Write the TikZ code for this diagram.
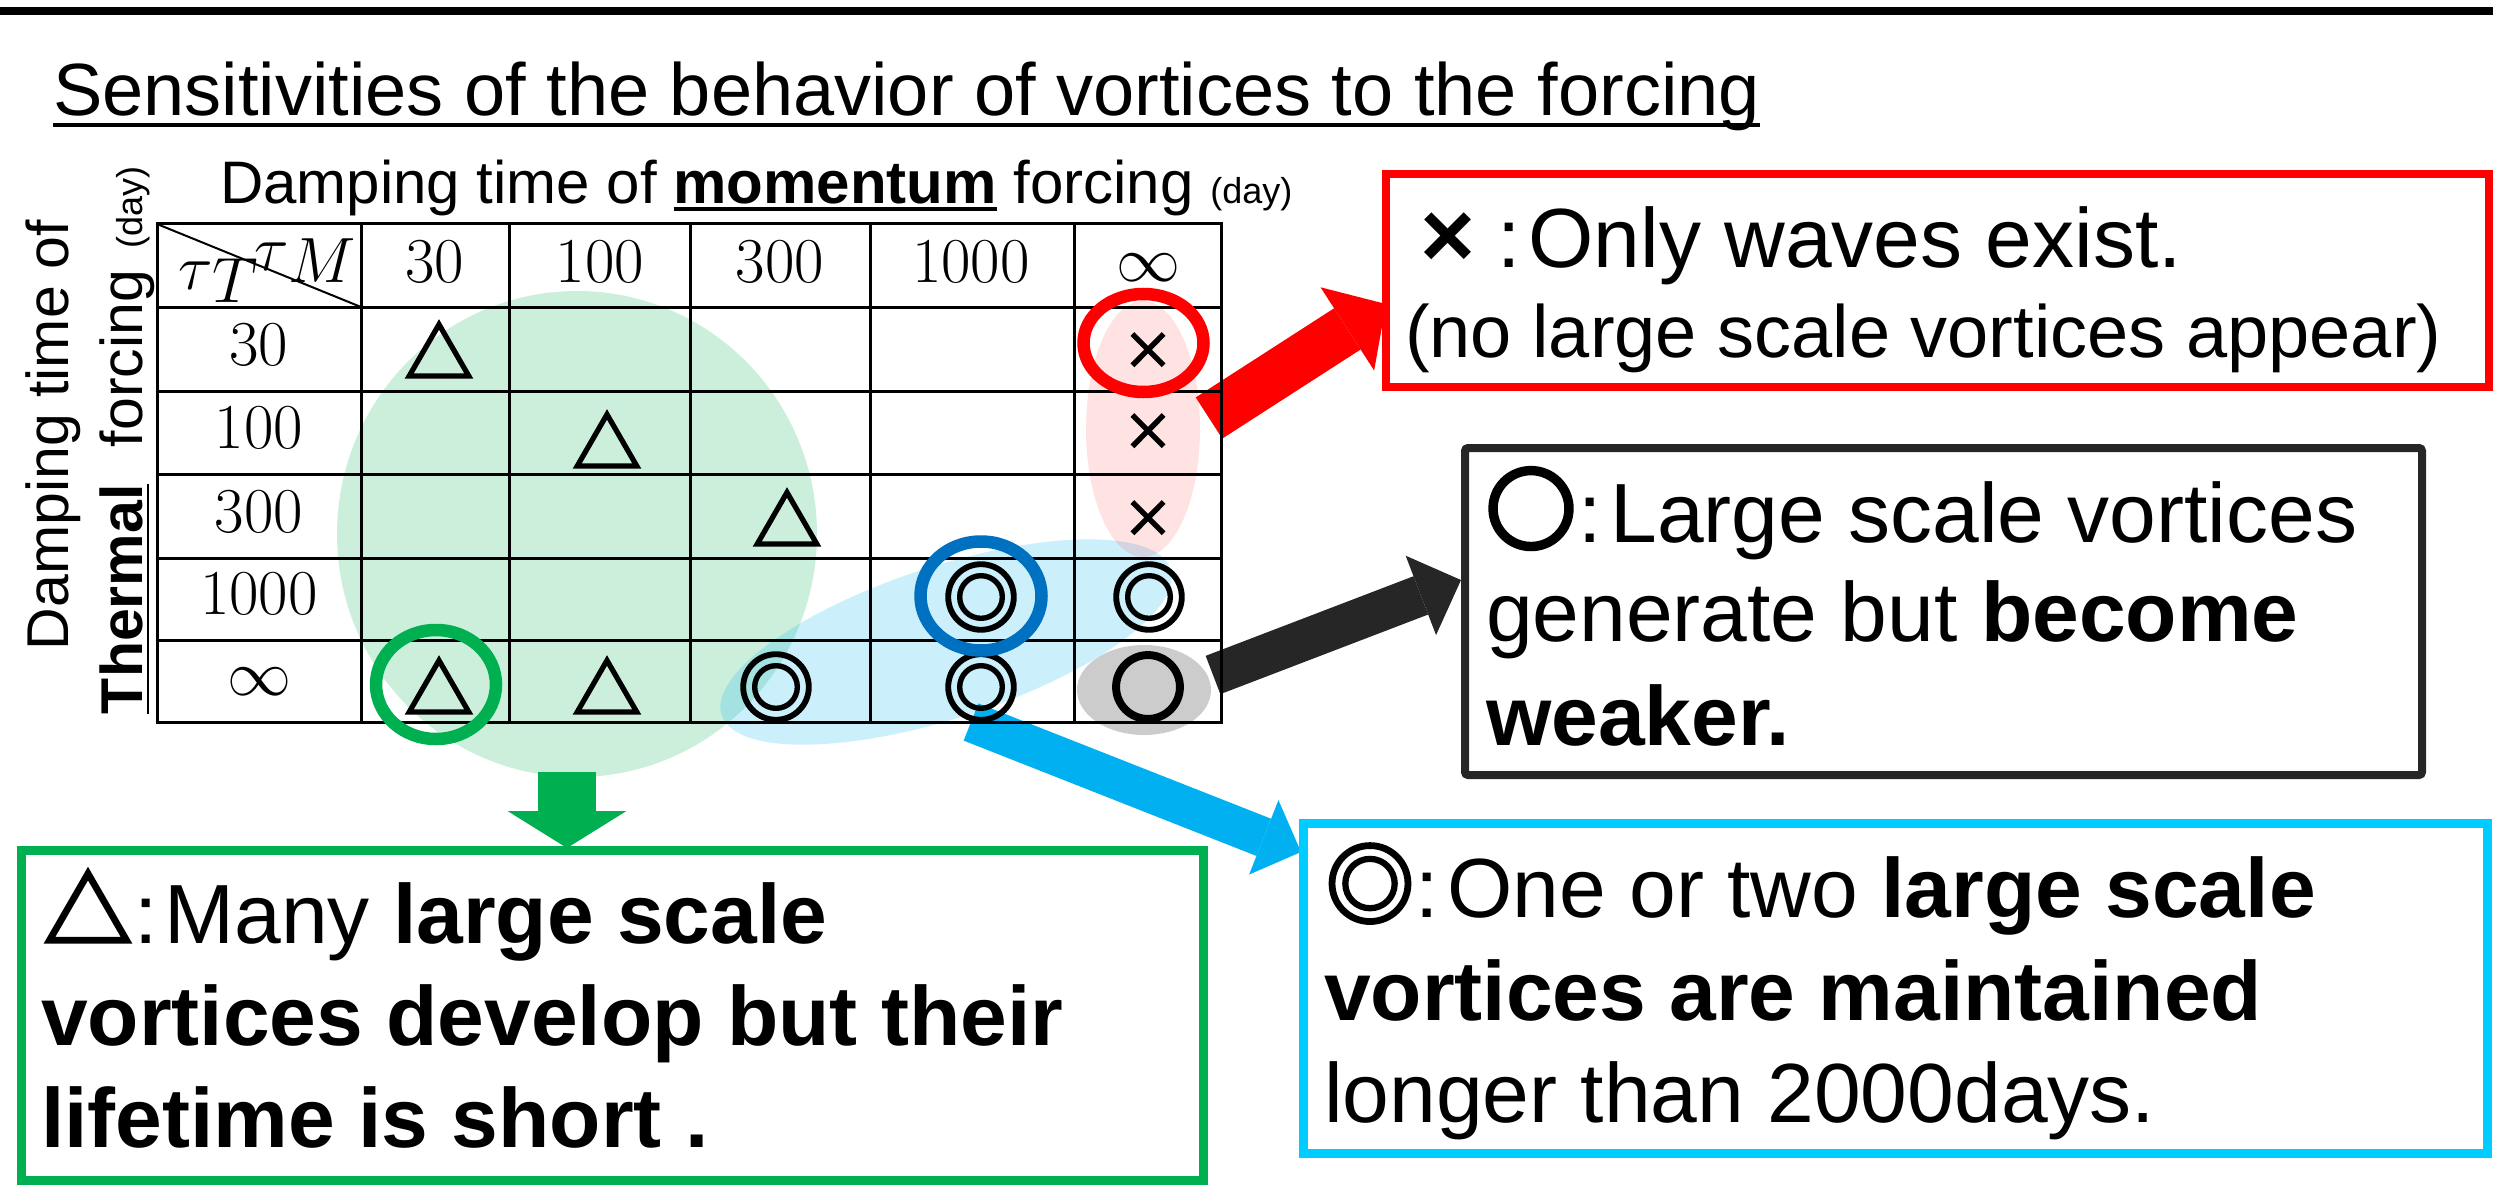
\documentclass[tikz,border=0pt]{standalone}
\usepackage[no-math]{fontspec}
\setmainfont{Liberation Sans}
\newfontfamily\cjk{Noto Sans CJK JP}
\newfontfamily\cjkb[FakeBold=4]{Noto Sans CJK JP}
\newfontfamily\cjkB[FakeBold=7]{Noto Sans CJK JP}
\usetikzlibrary{arrows.meta}
\definecolor{pgreen}{HTML}{00B050}
\definecolor{pblue}{HTML}{0070C0}
\definecolor{pcyan}{HTML}{00B0F0}
\definecolor{boxcyan}{HTML}{00CCFF}
\definecolor{dgray}{HTML}{262626}
\newsavebox\ulbox
\newcommand\myul[3]{\sbox\ulbox{#3}\rlap{\rule[-#1]{\wd\ulbox}{#2}}\usebox\ulbox}
\newcommand\bignum[1]{\scalebox{3.086}{\fontsize{20.74}{24}\selectfont$#1$}}
\tikzset{
  every node/.style={inner sep=0pt, outer sep=0pt},
  leg/.style={anchor=base west, font=\fontsize{84}{100}\selectfont},
  tsym/.style={font=\fontsize{68}{70}\selectfont\cjkb},
  gridline/.style={line width=3pt, line cap=rect},
  box/.style={draw, rectangle},
  barrow/.style n args={3}{line width=#1pt, -{Triangle[width=#2pt, length=#3pt, line width=0pt]}},
  hoop/.style={line width=12.5pt}
}
\begin{document}
\begin{tikzpicture}[x=1pt, y=-1pt]
\useasboundingbox (0,0) rectangle (2493,1185);
% top bar
\fill[black] (0,7) rectangle (2493,15);
% title
\node[anchor=base west, font=\fontsize{74}{80}\selectfont] (title) at (53,116)
  {\myul{10.7pt}{4pt}{Sensitivities of the behavior of vortices to the forcing}};
% axis labels
\node[anchor=base west, font=\fontsize{60}{66}\selectfont] (mlab) at (220,204)
  {Damping time of \myul{7pt}{3.5pt}{\textbf{momentum}} forcing {\fontsize{36}{40}\selectfont(day)}};
\node[rotate=90, anchor=base west, font=\fontsize{59}{64}\selectfont] (vlab1) at (68,650)
  {Damping time of};
\node[rotate=90, anchor=base west, font=\fontsize{59}{64}\selectfont] (vlab2) at (142,714)
  {\myul{7pt}{2.5pt}{\textbf{Thermal}}\hspace{21pt} forcing\hspace{5pt} {\fontsize{36}{40}\selectfont(day)}};
% shaded regions
\fill[pgreen, opacity=0.2] (577,534) ellipse [x radius=240, y radius=243];
\fill[pcyan, opacity=0.2, rotate around={18:(946,642)}] (946,642) ellipse [x radius=236, y radius=76];
\fill[red, opacity=0.11] (1143,429) ellipse [x radius=57, y radius=128];
\fill[black, opacity=0.2] (1144,690) ellipse [x radius=67, y radius=45];
% arrow end points
\coordinate (ra0) at (1209,418); \coordinate (ra1) at (1386,304);
\coordinate (ka0) at (1213,675); \coordinate (ka1) at (1461,580);
\coordinate (ba0) at (971,722);  \coordinate (ba1) at (1301,852);
\coordinate (ga0) at (567,772);  \coordinate (ga1) at (567,848);
\draw[barrow={49}{99}{46}, red] (ra0) -- (ra1);
\draw[barrow={41}{85}{43}, dgray] (ka0) -- (ka1);
\draw[barrow={40}{80}{40}, pcyan] (ba0) -- (ba1);
\draw[barrow={58}{119}{37}, pgreen] (ga0) -- (ga1);
% table grid
\foreach \x in {157,361,509,690,870,1074,1221} \draw[gridline] (\x,224) -- (\x,722);
\foreach \y in {224,307,391,474,558,640,722} \draw[gridline] (157,\y) -- (1221,\y);
\draw[line width=2pt] (157,224) -- (361,307);
% header
\node[anchor=base east] (tauM) at (356,270) {\scalebox{3.086}{\fontsize{20.74}{24}\selectfont$\tau\lower4.2pt\hbox{$M$}$}};
\node[anchor=base west] (tauT) at (178,290) {\scalebox{3.086}{\fontsize{20.74}{24}\selectfont$\tau\lower3.9pt\hbox{$T$}$}};
\node[anchor=base] (h1) at (435,282) {\bignum{30}};
\node[anchor=base] (h2) at (600,282) {\bignum{100}};
\node[anchor=base] (h3) at (780,282) {\bignum{300}};
\node[anchor=base] (h4) at (971,282) {\bignum{1000}};
\node (h5) at (1148,268) {\bignum{\infty}};
\node[anchor=base] (r1) at (259,365) {\bignum{30}};
\node[anchor=base] (r2) at (259,448) {\bignum{100}};
\node[anchor=base] (r3) at (259,532) {\bignum{300}};
\node[anchor=base] (r4) at (259,614) {\bignum{1000}};
\node (r5) at (259,682) {\bignum{\infty}};
% table symbols
\node[tsym] (d1) at (439,350) {△};
\node[tsym] (d2) at (607,440) {△};
\node[tsym] (d3) at (787,518) {△};
\node[tsym] (d4) at (439,686) {△};
\node[tsym] (d5) at (607,686) {△};
\node[tsym, font=\fontsize{50}{56}\selectfont\cjkb] (x1) at (1148,351) {×};
\node[tsym, font=\fontsize{50}{56}\selectfont\cjkb] (x2) at (1148,432) {×};
\node[tsym, font=\fontsize{50}{56}\selectfont\cjkb] (x3) at (1148,519) {×};
\node[tsym, font=\fontsize{76}{80}\selectfont\cjkb] (w1) at (981,597) {◎};
\node[tsym, font=\fontsize{76}{80}\selectfont\cjkb] (w2) at (1149,597) {◎};
\node[tsym, font=\fontsize{76}{80}\selectfont\cjkb] (w3) at (776,687) {◎};
\node[tsym, font=\fontsize{76}{80}\selectfont\cjkb] (w4) at (981,687) {◎};
\node[tsym, font=\fontsize{74}{80}\selectfont\cjkB] (o1) at (1148,687) {○};
% highlight rings
\draw[hoop, red] (1143.5,343) ellipse [x radius=60, y radius=49];
\draw[hoop, pblue] (981,596) ellipse [x radius=60.5, y radius=54.5];
\draw[hoop, pgreen] (436,684.5) ellipse [x radius=60, y radius=54.5];
% legend boxes
\node[box, draw=red, line width=8pt, minimum width=1103pt, minimum height=213pt] (redbox) at (1937.5,280.5) {};
\node[box, draw=dgray, line width=8pt, rounded corners=3pt, minimum width=957pt, minimum height=327pt] (blackbox) at (1943.5,611.5) {};
\node[box, draw=boxcyan, line width=9pt, minimum width=1184pt, minimum height=330pt] (bluebox) at (1895,988) {};
\node[box, draw=pgreen, line width=9pt, minimum width=1182pt, minimum height=330pt] (greenbox) at (612,1015) {};
% legend texts
\node[leg] (t1) at (1420,268) {\makebox[77pt][l]{\fontsize{94}{96}\selectfont\bfseries ×}:\hspace{8pt}Only waves exist.};
\node[anchor=base west, font=\fontsize{74}{80}\selectfont] (t2) at (1405,357) {(no large scale vortices appear)};
\node[leg] (t3) at (1487,542) {\makebox[91pt][l]{\fontsize{88}{90}\selectfont\cjkB ○}:\hspace{9pt}Large scale vortices};
\node[leg] (t4) at (1486,641) {generate but \textbf{become}};
\node[leg] (t5) at (1486,745) {\textbf{weaker.}};
\node[leg] (t6) at (1326,917) {\makebox[89pt][l]{\fontsize{88}{90}\selectfont\cjkb ◎}:\hspace{9pt}One or two \textbf{large scale}};
\node[leg] (t7) at (1324,1020) {\textbf{vortices are maintained}};
\node[leg] (t8) at (1324,1122) {longer than 2000days.};
\node[leg] (t9) at (44,943) {\makebox[90pt][l]{\fontsize{88}{90}\selectfont\cjkb △}:\hspace{7pt}Many \textbf{large scale}};
\node[leg] (t10) at (41,1045) {\textbf{vortices develop but their}};
\node[leg] (t11) at (41,1147) {\textbf{lifetime is short .}};
\end{tikzpicture}
\end{document}
